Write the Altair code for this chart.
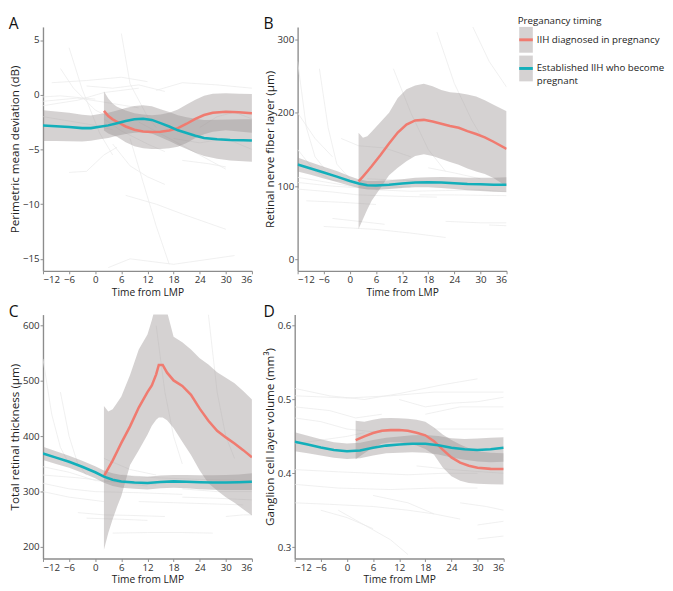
import altair as alt
import pandas as pd

RED = "#F07B70"
TEAL = "#13AFBA"
BAND = "#9c9494"
BGLINE = "#e9e9e9"
FONT = "Open Sans"

cats = ["IIH diagnosed in pregnancy", "Established IIH who become pregnant"]
cat_labels = ["IIH diagnosed in pregnancy", "Established IIH who become\npregnant"]

x_ticks = [-12, -6, 0, 6, 12, 18, 24, 30, 36]

# ---------------- Panel A: perimetric mean deviation ----------------
A_teal_t = [-12, -9, -6, -3, -1, 1, 3, 5, 7, 9, 11, 13, 15, 17, 19, 21, 23, 25, 28, 31, 34, 36]
A_teal_fit = [-2.82, -2.88, -2.95, -3.05, -3.05, -2.92, -2.8, -2.6, -2.4, -2.25, -2.2, -2.3, -2.6, -2.9, -3.25, -3.5, -3.75, -3.95, -4.07, -4.13, -4.16, -4.18]
A_teal_lo = [-4.22, -4.23, -4.25, -4.27, -4.2, -4.07, -3.95, -3.75, -3.58, -3.48, -3.43, -3.55, -3.88, -4.22, -4.62, -4.95, -5.3, -5.6, -5.85, -6.0, -6.08, -6.12]
A_teal_hi = [-1.42, -1.53, -1.65, -1.83, -1.9, -1.77, -1.65, -1.45, -1.22, -1.02, -0.97, -1.05, -1.32, -1.58, -1.88, -2.05, -2.2, -2.3, -2.29, -2.26, -2.24, -2.24]
A_red_t = [2, 3, 4, 5, 7, 9, 11, 13, 15, 17, 19, 21, 23, 25, 27, 30, 33, 36]
A_red_fit = [-1.47, -1.95, -2.25, -2.47, -2.9, -3.2, -3.35, -3.41, -3.38, -3.27, -3.05, -2.65, -2.2, -1.85, -1.65, -1.56, -1.6, -1.7]
A_red_lo = [-3.27, -3.55, -3.7, -3.85, -4.35, -4.7, -4.9, -4.95, -4.95, -4.9, -4.75, -4.4, -3.95, -3.6, -3.38, -3.25, -3.35, -3.47]
A_red_hi = [0.33, -0.35, -0.8, -1.09, -1.45, -1.7, -1.8, -1.87, -1.81, -1.64, -1.35, -0.9, -0.45, -0.1, 0.08, 0.13, 0.1, 0.06]
A_bg = [
    [(-12, -0.6), (-4, -0.3), (4, -0.8), (10, -1.2)],
    [(-10, 1.1), (-2, 1.3), (6, 1.6), (12, 1.2)],
    [(-12, -1.0), (-4, -0.5), (2, 0.2), (10, 0.6)],
    [(-8, 2.4), (-5, 0.6), (0, -1.4), (4, -2.2)],
    [(-6, 4.3), (-3, 0.5), (1, -3.5), (4, -5.5)],
    [(6, 5.6), (8, 1.0), (12, -2.0), (14, -3.0)],
    [(7, -9.2), (14, -10.0), (20, -10.9), (30, -12.3)],
    [(3, -15.8), (8, -15.0), (18, -15.5), (32, -14.7)],
    [(-6, -7.1), (-2, -7.0), (2, -5.5), (5, -4.8)],
    [(10, -2.5), (18, -4.2), (24, -5.5), (30, -6.8)],
    [(14, 0.4), (20, 1.1), (28, 0.9), (36, 0.6)],
    [(2, -2.2), (6, -3.3), (12, -4.5), (16, -5.2)],
    [(18, -4.0), (24, -4.4), (30, -4.0), (36, -5.0)],
    [(-12, -2.0), (-6, -2.4), (0, -2.8), (4, -3.2)],
    [(4, -4.5), (8, -6.5), (12, -7.5), (16, -8.2)],
    [(24, -3.0), (28, -2.0), (32, -1.6), (36, -2.2)],
    [(8, -4.0), (11, -8.0), (14, -12.0), (17, -15.5)],
    [(-2, 0.8), (4, 0.6), (10, 0.9), (16, 0.3)],
    [(20, -6.0), (26, -6.3), (30, -6.6)],
    [(-12, -0.2), (-8, -0.1), (0, -0.4)],
]

# ---------------- Panel B: retinal nerve fiber layer ----------------
B_teal_t = [-12, -9, -6, -3, 0, 2, 4, 6, 9, 12, 15, 18, 21, 24, 27, 30, 33, 36]
B_teal_fit = [129.5, 124, 118.5, 113, 107, 103.5, 101.3, 101, 102, 103.5, 105, 105.3, 105, 104, 103, 102.5, 102, 101.8]
B_teal_lo = [120, 115.5, 110.5, 105.5, 100.5, 97.5, 95.5, 95, 96, 97.5, 98.5, 98.5, 97.5, 96, 94.5, 93.5, 92.5, 92]
B_teal_hi = [139, 132.5, 126.5, 120.5, 113.5, 109.5, 107, 107, 108, 109.5, 111.5, 112, 112.5, 112, 111.5, 111.5, 111.5, 112]
B_red_t = [2, 3, 4, 5, 7, 9, 11, 13, 15, 17, 19, 21, 23, 25, 27, 29, 31, 33, 36]
B_red_fit = [106.6, 113, 120, 127, 142, 158, 173, 184, 189.5, 190.3, 188, 185, 182, 179.5, 175, 171, 166.5, 160.5, 150.7]
B_red_lo = [41.5, 55, 68, 80, 97, 115, 125, 134, 141, 143.5, 141, 137, 133, 129, 124, 120, 116.5, 111, 99.5]
B_red_hi = [172.7, 166, 168, 174, 187, 200, 220, 232, 237, 239.6, 236, 231, 228, 227, 225, 222, 217, 211, 202]
B_bg = [
    [(-12, 270), (-10, 180), (-8, 140), (-6, 125)],
    [(-7, 260), (-5, 180), (-3, 130), (0, 110)],
    [(-12, 112), (-6, 106), (0, 100), (8, 100), (14, 99)],
    [(-12, 105), (-4, 100), (4, 97), (12, 98)],
    [(-12, 96), (-4, 92), (2, 88), (12, 86), (20, 85)],
    [(-6, 45), (0, 43), (6, 41), (14, 36), (22, 30)],
    [(-4, 56), (2, 52), (8, 48)],
    [(22, 52), (30, 50), (36, 50)],
    [(32, 47), (36, 46)],
    [(20, 310), (24, 240), (28, 190), (30, 170)],
    [(28, 320), (32, 270), (36, 235)],
    [(-12, 150), (-8, 120), (-4, 108), (2, 105)],
    [(6, 95), (14, 93), (22, 94), (30, 95), (36, 92)],
    [(16, 88), (24, 88), (36, 87)],
    [(4, 110), (12, 108), (20, 106), (28, 104)],
    [(-10, 80), (-2, 78), (6, 75)],
    [(-2, 165), (2, 155), (8, 152), (14, 140)],
    [(18, 125), (24, 118), (30, 110)],
    [(10, 260), (14, 200), (18, 150), (22, 120)],
    [(-12, 200), (-8, 165), (-4, 140)],
]

# ---------------- Panel C: total retinal thickness ----------------
C_teal_t = [-12, -9, -6, -3, 0, 2, 4, 6, 9, 12, 15, 18, 21, 24, 27, 30, 33, 36]
C_teal_fit = [369, 361.5, 354, 345, 335, 327, 321.5, 318.5, 316.5, 315.5, 317.5, 318.5, 318, 317, 316.5, 316.5, 317, 318]
C_teal_lo = [357, 350, 343, 334, 324, 316, 310, 307, 305, 304, 306, 307, 306, 304.5, 303.5, 303, 303, 303]
C_teal_hi = [381, 373, 365, 356, 346, 338, 333, 330, 328, 327, 329, 330, 330, 329.5, 329.5, 330, 331, 333]
C_red_t = [2, 3, 4, 5, 6, 8, 10, 12, 13, 14, 14.6, 15.5, 16.5, 18, 20, 22, 24, 26, 28, 30, 32, 34, 36]
C_red_fit = [328, 342, 356, 372, 388, 418, 452, 480, 492, 512, 529, 529, 515, 501, 491, 475, 450, 428, 410, 398, 387, 375, 362]
C_red_lo = [195, 225, 250, 272, 292, 348, 375, 403, 419, 430, 434, 434, 429, 415, 390, 366, 338, 315, 302, 290, 280, 268, 257]
C_red_hi = [455, 445, 449, 460, 472, 511, 557, 584, 610, 640, 650, 645, 625, 580, 570, 557, 541, 530, 516, 506, 496, 482, 466.5]
C_bg = [
    [(-12, 540), (-10, 440), (-8, 380), (-6, 350)],
    [(-8, 480), (-6, 400), (-4, 350), (-2, 330)],
    [(-12, 345), (-6, 335), (0, 320), (8, 315), (14, 312)],
    [(-12, 330), (-4, 325), (4, 318), (12, 310)],
    [(-12, 315), (-6, 305), (0, 300), (10, 298), (20, 295)],
    [(-4, 262), (2, 258), (8, 257), (16, 255)],
    [(-2, 252), (6, 250), (12, 248)],
    [(4, 225), (12, 226), (20, 226), (27, 225)],
    [(10, 282), (18, 280), (26, 278), (34, 276)],
    [(14, 600), (16, 480), (18, 400), (20, 350)],
    [(26, 620), (28, 480), (30, 400), (32, 360)],
    [(30, 255), (34, 258), (36, 258)],
    [(20, 290), (28, 288), (36, 285)],
    [(-12, 300), (-6, 290), (2, 282)],
    [(6, 330), (14, 325), (24, 322), (36, 320)],
    [(2, 360), (8, 340), (14, 330)],
    [(20, 305), (28, 300), (36, 300)],
]

# ---------------- Panel D: ganglion cell layer volume ----------------
D_teal_t = [-12, -9, -6, -3, 0, 3, 6, 9, 12, 15, 18, 21, 24, 27, 30, 33, 36]
D_teal_fit = [0.4427, 0.4390, 0.4350, 0.4315, 0.4300, 0.4310, 0.4345, 0.4375, 0.4390, 0.4400, 0.4400, 0.4380, 0.4345, 0.4325, 0.4315, 0.4325, 0.4347]
D_teal_lo = [0.4300, 0.4270, 0.4240, 0.4210, 0.4195, 0.4205, 0.4240, 0.4270, 0.4280, 0.4285, 0.4280, 0.4255, 0.4215, 0.4185, 0.4160, 0.4150, 0.4155]
D_teal_hi = [0.4555, 0.4510, 0.4460, 0.4420, 0.4405, 0.4415, 0.4450, 0.4480, 0.4500, 0.4515, 0.4520, 0.4505, 0.4475, 0.4465, 0.4470, 0.4480, 0.4490]
D_red_t = [2, 4, 6, 8, 10, 12, 14, 16, 18, 20, 22, 24, 26, 28, 30, 33, 36]
D_red_fit = [0.4449, 0.4500, 0.4545, 0.4575, 0.4585, 0.4587, 0.4575, 0.4550, 0.4515, 0.4436, 0.4320, 0.4215, 0.4145, 0.4102, 0.4075, 0.4060, 0.4058]
D_red_lo = [0.4190, 0.4270, 0.4350, 0.4400, 0.4420, 0.4420, 0.4405, 0.4375, 0.4330, 0.4250, 0.4080, 0.3960, 0.3900, 0.3870, 0.3858, 0.3852, 0.3849]
D_red_hi = [0.4711, 0.4700, 0.4725, 0.4745, 0.4750, 0.4745, 0.4740, 0.4725, 0.4700, 0.4620, 0.4524, 0.4450, 0.4390, 0.4340, 0.4300, 0.4280, 0.4270]
D_bg = [
    [(-12, 0.515), (-4, 0.505), (4, 0.50), (12, 0.508), (22, 0.52), (30, 0.528)],
    [(-12, 0.505), (0, 0.502), (10, 0.505), (20, 0.51), (36, 0.51)],
    [(-12, 0.49), (-4, 0.485), (2, 0.475), (8, 0.48)],
    [(-12, 0.475), (-6, 0.47), (0, 0.46), (8, 0.455)],
    [(12, 0.5), (18, 0.49), (24, 0.495), (30, 0.497), (36, 0.503)],
    [(18, 0.48), (26, 0.49), (36, 0.49)],
    [(20, 0.46), (28, 0.46), (36, 0.46)],
    [(-12, 0.405), (-2, 0.402), (6, 0.40), (14, 0.398), (22, 0.40), (30, 0.40)],
    [(-12, 0.385), (-2, 0.38), (10, 0.378), (20, 0.38), (30, 0.38)],
    [(-12, 0.36), (-4, 0.358), (6, 0.355), (14, 0.35), (20, 0.345)],
    [(-6, 0.35), (0, 0.34), (6, 0.325)],
    [(-2, 0.35), (4, 0.33), (10, 0.31), (14, 0.29)],
    [(6, 0.37), (14, 0.36), (20, 0.345), (26, 0.338)],
    [(30, 0.33), (36, 0.335)],
    [(30, 0.311), (36, 0.315)],
    [(16, 0.41), (24, 0.405), (36, 0.40)],
    [(26, 0.36), (32, 0.355), (36, 0.35)],
    [(-12, 0.44), (-6, 0.445), (0, 0.45), (4, 0.455)],
]

PW, PH = 215, 251


def fit_df(t, fit, lo, hi):
    return pd.DataFrame({"t": t, "fit": fit, "lo": lo, "hi": hi})


def bg_df(trajs):
    rows = []
    for i, tr in enumerate(trajs):
        for (tt, vv) in tr:
            rows.append({"id": i, "t": tt, "v": vv})
    return pd.DataFrame(rows)


def panel(letter, ytitle, ydom, yticks, yfmt, bg, teal, red):
    xenc = alt.X("t:Q", scale=alt.Scale(domain=[-12, 36], nice=False, zero=False),
                 axis=alt.Axis(values=x_ticks, title="Time from LMP"))
    ysc = alt.Scale(domain=ydom, nice=False, zero=False)
    yax = alt.Axis(values=yticks, format=yfmt, title=ytitle)

    bgl = alt.Chart(bg_df(bg)).mark_line(color=BGLINE, strokeWidth=0.7, clip=True).encode(
        x=xenc, y=alt.Y("v:Q", scale=ysc, axis=yax), detail="id:N")
    layers = [bgl]
    for d in (teal, red):
        layers.append(alt.Chart(d).mark_area(color=BAND, opacity=0.42, clip=True).encode(
            x=xenc, y=alt.Y("lo:Q", scale=ysc, axis=yax), y2="hi:Q"))
    for d, c in ((red, RED), (teal, TEAL)):
        layers.append(alt.Chart(d).mark_line(color=c, strokeWidth=2.6, clip=True).encode(
            x=xenc, y=alt.Y("fit:Q", scale=ysc, axis=yax)))
    return alt.layer(*layers).properties(
        width=PW, height=PH,
        title=alt.TitleParams(letter, anchor="start", frame="bounds", fontSize=16,
                              fontWeight="normal", font=FONT, color="#111", offset=-5))


pA = panel("A", "Perimetric mean deviation (dB)", [-16.1, 6.2], [-15, -10, -5, 0, 5], "d", A_bg,
           fit_df(A_teal_t, A_teal_fit, A_teal_lo, A_teal_hi), fit_df(A_red_t, A_red_fit, A_red_lo, A_red_hi))
pB = panel("B", "Retinal nerve fiber layer (µm)", [-15.5, 317], [0, 100, 200, 300], "d", B_bg,
           fit_df(B_teal_t, B_teal_fit, B_teal_lo, B_teal_hi), fit_df(B_red_t, B_red_fit, B_red_lo, B_red_hi))
pC = panel("C", "Total retinal thickness (µm)", [179, 620], [200, 300, 400, 500, 600], "d", C_bg,
           fit_df(C_teal_t, C_teal_fit, C_teal_lo, C_teal_hi), fit_df(C_red_t, C_red_fit, C_red_lo, C_red_hi))
pD = panel("D", "Ganglion cell layer volume (mm³)", [0.2845, 0.615], [0.3, 0.4, 0.5, 0.6], ".1f", D_bg,
           fit_df(D_teal_t, D_teal_fit, D_teal_lo, D_teal_hi), fit_df(D_red_t, D_red_fit, D_red_lo, D_red_hi))

# ---------------- Legend ----------------
leg = pd.DataFrame({"cat": cats, "label": cat_labels})
ly = alt.Y("cat:N", scale=alt.Scale(domain=cats, paddingInner=0.1, paddingOuter=0), axis=None)
lcol = alt.Color("cat:N", scale=alt.Scale(domain=cats, range=[RED, TEAL]), legend=None)
lbox = alt.Chart(leg).mark_rect(color=BAND, opacity=0.42).encode(x=alt.value(0), x2=alt.value(14), y=ly)
lrule = alt.Chart(leg).mark_rule(strokeWidth=3).encode(x=alt.value(0), x2=alt.value(14), y=ly, color=lcol)
ltext = alt.Chart(leg).mark_text(align="left", baseline="middle", lineBreak="\n", font=FONT,
                                 fontSize=10, color="#222", lineHeight=13).encode(
    x=alt.value(18), y=ly, text="label:N")
legend = alt.layer(lbox, lrule, ltext).properties(
    width=110, height=56,
    title=alt.TitleParams("Preganancy timing", anchor="start", fontSize=10, fontWeight="normal",
                          font=FONT, color="#222", offset=1))

top = alt.hconcat(pA, pB, legend, spacing=10)
bottom = alt.hconcat(pC, pD, spacing=10)
chart = alt.vconcat(top, bottom, spacing=6).properties(padding=0).configure_axis(
    grid=False, domainColor="#8c8c8c", domainWidth=1.4, tickColor="#8c8c8c", tickSize=3,
    labelColor="#333", labelFont=FONT, labelFontSize=10, titleFont=FONT,
    titleFontWeight="normal", titleColor="#222", labelPadding=1
).configure_axisX(titleFontSize=10.5, titlePadding=3).configure_axisY(
    titleFontSize=12, titlePadding=1
).configure_view(stroke=None)

chart.save("out.html", embed_options={"renderer": "svg", "actions": False})
